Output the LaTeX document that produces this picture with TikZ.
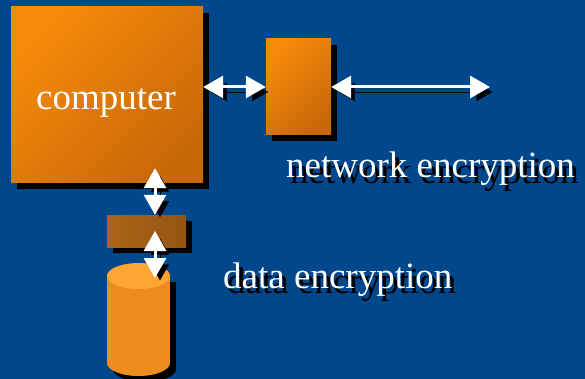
\documentclass[tikz,border=0pt]{standalone}
\usepackage{fontspec}
\setmainfont{Liberation Serif}
\usetikzlibrary{arrows.meta,shadows}
\definecolor{slide}{RGB}{0,71,140}
\definecolor{ambera}{RGB}{246,138,10}
\definecolor{amberb}{RGB}{200,104,8}
\definecolor{keybox}{RGB}{172,100,22}
\definecolor{diskbody}{RGB}{238,140,30}
\definecolor{disktop}{RGB}{255,165,50}
\begin{document}
\begin{tikzpicture}[x=1pt,y=-1pt,
    box/.style={draw=none,shading=axis,left color=ambera,right color=amberb,shading angle=45,
      drop shadow={shadow xshift=6pt,shadow yshift=-6pt,opacity=1,fill=black}},
    duplex/.style={white,line width=3pt,{Triangle[length=20pt,width=22pt]}-{Triangle[length=20pt,width=22pt]},
      preaction={draw=black,transform canvas={xshift=5pt,yshift=-5pt}}},
    caption/.style={text=white,font=\fontsize{37}{40}\selectfont,inner sep=0pt,anchor=base west}]
  % background
  \fill[slide] (0,0) rectangle (585,379);
  \useasboundingbox (0,0) rectangle (585,379);

  % boxes
  \node[box,minimum width=192pt,minimum height=176pt] (computer) at (107,95) {};
  \node[caption,anchor=base] (comptext) at (106,110) {computer};
  \node[box,minimum width=65pt,minimum height=96pt] (netbox) at (298.5,87) {};
  \node[box,shading=axis,left color=keybox,right color=keybox!85!black,
    minimum width=79pt,minimum height=32pt] (key) at (146.5,231) {};

  % disk: shadow, body, lid
  \fill[black] (113,282) rectangle (176,369);
  \fill[black] (144.5,369) ellipse (31.5 and 13);
  \fill[diskbody] (107,276) rectangle (170,363);
  \fill[diskbody] (138.5,363) ellipse (31.5 and 13);
  \fill[disktop] (138.5,276) ellipse (31.5 and 13);
  \coordinate (disk) at (138.5,263);

  % connectors
  \coordinate (wire) at (490,87);
  \coordinate (tap) at (155,0);
  \draw[duplex] (computer.east |- netbox) -- (netbox.west);
  \draw[duplex] (netbox.east) -- (wire);
  \draw[duplex,shorten <=-15pt] (tap |- computer.south) -- (tap |- key.north);
  \draw[duplex,shorten >=-15pt] (tap |- key) -- (tap |- disk);

  % labels
  \node[caption,text=black] (netshade) at (290,183) {network encryption};
  \node[caption] (netcap) at (286,178) {network encryption};
  \node[caption,text=black] (datashade) at (227,293) {data encryption};
  \node[caption] (datacap) at (223,288) {data encryption};
\end{tikzpicture}
\end{document}
